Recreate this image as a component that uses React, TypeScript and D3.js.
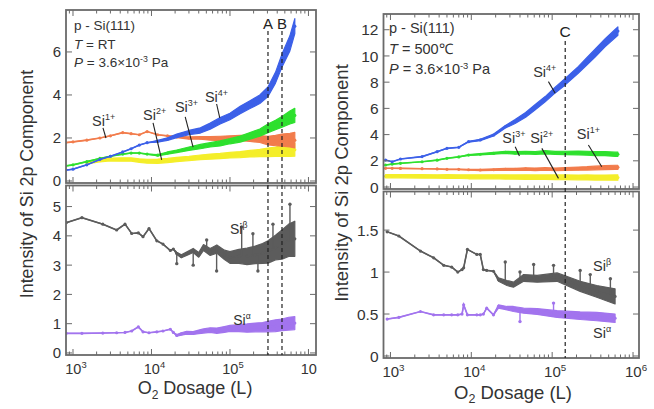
import React from 'react';
import * as d3 from 'd3';

const FONT = '"Liberation Sans", Arial, Helvetica, sans-serif';
const INK = '#333';
const FRAME = '#6a6a6a';

const COL_SI4 = '#3c60e8';
const COL_SI3 = '#2ee02e';
const COL_SI2 = '#f4ee2a';
const COL_SI1 = '#f27c4c';
const COL_BETA = '#5c5c5c';
const COL_ALPHA = '#a274ee';

// ---------- room temperature, Si 2p oxide components ----------
const doseLT = [800, 1000, 1500, 2200, 3000, 4300, 5500, 7000, 8800, 12000, 16000, 21000, 30000, 42000, 56000, 75000, 100000, 135000, 180000, 240000, 305000, 380000, 460000, 580000, 670000];
const si4LT = [0.5, 0.55, 0.75, 1.0, 1.15, 1.35, 1.5, 1.67, 1.78, 1.85, 1.95, 2.1, 2.25, 2.35, 2.55, 2.8, 3.0, 3.3, 3.55, 3.8, 4.15, 4.8, 5.6, 6.4, 7.2];
const si4LTs = [0, 0, 0, 0, 0, 0, 0, 0, 0, 0.04, 0.06, 0.08, 0.1, 0.12, 0.14, 0.15, 0.15, 0.17, 0.18, 0.2, 0.22, 0.25, 0.3, 0.35, 0.35];
const si3LT = [0.7, 0.75, 0.9, 1.05, 1.15, 1.25, 1.3, 1.3, 1.25, 1.2, 1.3, 1.38, 1.5, 1.6, 1.68, 1.75, 1.85, 1.95, 2.1, 2.25, 2.45, 2.6, 2.75, 2.95, 3.05];
const si3LTs = [0, 0, 0, 0, 0, 0, 0, 0, 0, 0.03, 0.05, 0.06, 0.08, 0.1, 0.1, 0.12, 0.12, 0.14, 0.15, 0.17, 0.2, 0.22, 0.25, 0.3, 0.33];
const si2LT = [null, null, 0.85, 0.95, 1.0, 1.0, 1.0, 0.95, 0.92, 0.92, 0.95, 1.0, 1.05, 1.1, 1.13, 1.16, 1.2, 1.23, 1.27, 1.3, 1.33, 1.36, 1.4, 1.42, 1.45];
const si2LTs = [0, 0, 0.05, 0.06, 0.07, 0.08, 0.08, 0.08, 0.09, 0.1, 0.1, 0.1, 0.1, 0.11, 0.12, 0.12, 0.13, 0.14, 0.15, 0.17, 0.2, 0.22, 0.25, 0.28, 0.3];
const si1LT = [1.78, 1.82, 1.9, 2.0, 2.1, 2.25, 2.2, 2.15, 2.3, 2.15, 2.1, 2.05, 2.0, 2.0, 1.98, 1.98, 2.0, 2.0, 1.98, 1.95, 1.88, 1.88, 1.9, 1.9, 1.9];
const si1LTs = [0, 0, 0, 0, 0, 0, 0, 0, 0, 0, 0, 0.03, 0.05, 0.06, 0.08, 0.1, 0.1, 0.12, 0.14, 0.16, 0.2, 0.24, 0.28, 0.32, 0.36];

// ---------- room temperature, Si alpha / Si beta ----------
const doseLB = [820, 1300, 2400, 3600, 4600, 5600, 6800, 7800, 9300, 11700, 14000, 17400, 19000, 21000, 24000, 28000, 34000, 40000, 46000, 56000, 68000, 85000, 100000, 130000, 165000, 210000, 260000, 305000, 380000, 460000, 560000, 670000];
const betaL = [4.45, 4.62, 4.4, 4.2, 4.4, 4.08, 4.1, 3.97, 4.25, 3.83, 3.72, 3.5, 3.55, 3.4, 3.3, 3.39, 3.5, 3.35, 3.6, 3.45, 3.55, 3.35, 3.26, 3.3, 3.3, 3.35, 3.4, 3.45, 3.6, 3.7, 3.85, 3.9];
const betaLs = [0, 0, 0, 0, 0, 0, 0, 0, 0, 0, 0, 0, 0, 0.04, 0.05, 0.06, 0.07, 0.08, 0.1, 0.12, 0.14, 0.16, 0.2, 0.24, 0.28, 0.3, 0.34, 0.38, 0.42, 0.5, 0.55, 0.6];
const alphaL = [0.67, 0.67, 0.68, 0.69, 0.7, 0.75, 0.89, 0.72, 0.69, 0.72, 0.75, 0.81, 0.7, 0.6, 0.65, 0.69, 0.68, 0.72, 0.75, 0.78, 0.76, 0.8, 0.84, 0.85, 0.85, 0.87, 0.88, 0.9, 0.93, 0.96, 1.0, 1.02];
const alphaLs = [0, 0, 0, 0, 0, 0, 0, 0, 0, 0, 0, 0, 0, 0.03, 0.04, 0.05, 0.05, 0.06, 0.07, 0.08, 0.09, 0.1, 0.1, 0.12, 0.14, 0.15, 0.16, 0.18, 0.2, 0.2, 0.22, 0.22];
// [dose, base, tip]
const betaSpikesL = [[21000, 3.4, 3.05], [34000, 3.5, 3.0], [50500, 3.6, 3.86], [67600, 3.55, 2.8], [141000, 3.3, 4.3], [196000, 3.3, 4.07], [227000, 3.35, 2.8], [353000, 3.55, 4.4], [581000, 3.85, 5.08]];

// ---------- 500 C, Si 2p oxide components ----------
const doseRT = [870, 1050, 1330, 2460, 3780, 5000, 7000, 9250, 12900, 18900, 26400, 34800, 47000, 61800, 82000, 109000, 145000, 210000, 270000, 337000, 450000, 600000, 650000];
const si4RT = [2.06, 1.93, 2.14, 2.32, 2.7, 2.95, 3.03, 3.46, 3.59, 3.97, 4.6, 5.0, 5.5, 6.1, 6.7, 7.4, 8.04, 8.93, 9.6, 10.2, 11.0, 11.7, 11.9];
const si4RTs = [0, 0, 0, 0, 0, 0, 0, 0.03, 0.05, 0.08, 0.1, 0.15, 0.18, 0.2, 0.2, 0.22, 0.25, 0.25, 0.28, 0.3, 0.3, 0.32, 0.32];
const si3RT = [1.68, 1.75, 1.81, 1.93, 2.05, 2.19, 2.3, 2.44, 2.5, 2.57, 2.65, 2.6, 2.62, 2.6, 2.65, 2.6, 2.6, 2.6, 2.58, 2.55, 2.55, 2.5, 2.5];
const si3RTs = [0, 0, 0, 0, 0, 0, 0, 0.03, 0.05, 0.07, 0.08, 0.1, 0.1, 0.11, 0.12, 0.12, 0.13, 0.14, 0.15, 0.15, 0.16, 0.16, 0.16];
const si2RT = [0.82, 0.82, 0.82, 0.81, 0.8, 0.8, 0.79, 0.78, 0.78, 0.78, 0.77, 0.76, 0.76, 0.75, 0.75, 0.74, 0.74, 0.73, 0.73, 0.72, 0.72, 0.72, 0.72];
const si2RTs = [0.12, 0.12, 0.12, 0.13, 0.13, 0.14, 0.14, 0.15, 0.15, 0.15, 0.16, 0.16, 0.17, 0.17, 0.17, 0.18, 0.18, 0.18, 0.19, 0.19, 0.19, 0.2, 0.2];
const si1RT = [1.43, 1.43, 1.42, 1.4, 1.38, 1.35, 1.35, 1.32, 1.3, 1.32, 1.35, 1.35, 1.38, 1.35, 1.38, 1.35, 1.38, 1.4, 1.42, 1.45, 1.48, 1.5, 1.5];
const si1RTs = [0, 0, 0, 0, 0, 0, 0, 0.03, 0.05, 0.06, 0.07, 0.08, 0.09, 0.1, 0.1, 0.1, 0.11, 0.12, 0.13, 0.14, 0.15, 0.16, 0.16];

// ---------- 500 C, Si alpha / Si beta ----------
const doseRB = [910, 1270, 2350, 3420, 4560, 5720, 6800, 7680, 8040, 8950, 11700, 12900, 14100, 15500, 18800, 21700, 27600, 33200, 44400, 65200, 115000, 222000, 356000, 600000];
const betaR = [1.48, 1.43, 1.25, 1.17, 1.08, 1.06, 1.0, 1.03, 1.05, 1.27, 1.21, 1.21, 1.03, 1.02, 1.01, 0.91, 0.87, 0.85, 0.93, 0.92, 0.94, 0.83, 0.77, 0.71];
const betaRs = [0, 0, 0, 0, 0, 0, 0, 0, 0, 0, 0, 0, 0, 0, 0, 0.02, 0.03, 0.03, 0.04, 0.04, 0.05, 0.06, 0.07, 0.09];
const alphaR = [0.44, 0.46, 0.53, 0.49, 0.49, 0.49, 0.49, 0.5, 0.61, 0.49, 0.49, 0.49, 0.5, 0.57, 0.49, 0.59, 0.57, 0.56, 0.54, 0.53, 0.5, 0.48, 0.47, 0.45];
const alphaRs = [0, 0, 0, 0, 0, 0, 0, 0, 0, 0, 0, 0, 0, 0, 0, 0.02, 0.02, 0.03, 0.03, 0.035, 0.04, 0.045, 0.05, 0.05];
const betaSpikesR = [[26300, 0.87, 1.12], [40000, 0.9, 1.0], [59000, 0.92, 1.09], [104000, 0.94, 1.08], [222000, 0.83, 1.02], [296000, 0.8, 0.97], [525000, 0.73, 0.92]];
const alphaSpikesR = [[40000, 0.55, 0.41], [104000, 0.5, 0.63]];

// marker doses (dashed lines)
const markersL = [{ name: 'A', dose: 305000 }, { name: 'B', dose: 460000 }];
const markersR = [{ name: 'C', dose: 145000 }];

const yTicksLT = [0, 2, 4, 6];
const yTicksLB = [0, 1, 2, 3, 4, 5];
const yTicksRT = [0, 2, 4, 6, 8, 10, 12];
const yTicksRB = [0, 0.5, 1, 1.5];
const xTickPowers = [3, 4, 5, 6];

// series labels: text, label anchor, leader from/to (dose, value)
const labelsLT = [
  { sup: '1+', d: 1746, v: 2.56, from: [2410, 2.47], to: [2630, 2.0] },
  { sup: '2+', d: 7800, v: 2.84, from: [10470, 2.7], to: [13490, 0.98] },
  { sup: '3+', d: 19900, v: 3.21, from: [26900, 2.98], to: [33900, 1.58] },
  { sup: '4+', d: 48000, v: 3.67, from: [67600, 3.58], to: [74100, 2.93] },
];
const labelsRT = [
  { sup: '4+', d: 58200, v: 8.4, from: [89900, 8.04], to: [109000, 7.15] },
  { sup: '3+', d: 24200, v: 3.38, from: [34900, 3.08], to: [39400, 2.37] },
  { sup: '2+', d: 53500, v: 3.38, from: [74600, 2.95], to: [119700, 0.66] },
  { sup: '1+', d: 201800, v: 3.64, from: [280500, 3.21], to: [411000, 1.55] },
];
const labelsLB = [
  { sup: 'β', d: 100000, v: 4.06 },
  { sup: 'α', d: 110000, v: 0.95 },
];
const labelsRB = [
  { sup: 'β', d: 321000, v: 1.01 },
  { sup: 'α', d: 321000, v: 0.21 },
];

type Ser = { dose: number[]; mid: (number | null)[]; spread: number[]; color: string };
type Lin = d3.ScaleLinear<number, number>;
type Log = d3.ScaleLogarithmic<number, number>;

function Band({ s, x, y }: { s: Ser; x: Log; y: Lin }) {
  const pts = s.dose.map((d, i) => ({ d, v: s.mid[i], s: s.spread[i] }));
  const area = d3.area<any>()
    .defined(p => p.v != null)
    .x(p => x(p.d))
    .y0(p => y(p.v - p.s))
    .y1(p => y(p.v + p.s));
  const line = d3.line<any>()
    .defined(p => p.v != null)
    .x(p => x(p.d))
    .y(p => y(p.v));
  return (
    <g>
      <path d={area(pts) || ''} fill={s.color} stroke={s.color} strokeWidth={1.2} strokeLinejoin="round" />
      <path d={line(pts) || ''} fill="none" stroke={s.color} strokeWidth={1.6} />
      {pts.filter(p => p.v != null).map((p, i) => (
        <circle key={i} cx={x(p.d)} cy={y(p.v as number)} r={1.6} fill={s.color} />
      ))}
    </g>
  );
}

function Spikes({ data, color, x, y }: { data: number[][]; color: string; x: Log; y: Lin }) {
  return (
    <g>
      {data.map(([d, b, t], i) => (
        <g key={i}>
          <line x1={x(d)} x2={x(d)} y1={y(b)} y2={y(t)} stroke={color} strokeWidth={1.4} />
          <circle cx={x(d)} cy={y(t)} r={1.7} fill={color} />
        </g>
      ))}
    </g>
  );
}

function Frame({ x, y, yTicks }: { x: Log; y: Lin; yTicks: number[] }) {
  const [x0, x1] = x.range();
  const [y1, y0] = y.range();
  const ticks = x.ticks();
  const isMajor = (t: number) => Math.abs(Math.log10(t) - Math.round(Math.log10(t))) < 1e-6;
  return (
    <g stroke={FRAME} fill="none">
      {ticks.map((t, i) => {
        const len = isMajor(t) ? 6 : 3.5;
        const px = x(t);
        return (
          <g key={i} strokeWidth={1}>
            <line x1={px} x2={px} y1={y1} y2={y1 - len} />
            <line x1={px} x2={px} y1={y0} y2={y0 + len} />
          </g>
        );
      })}
      {yTicks.map((t, i) => (
        <g key={i} strokeWidth={1}>
          <line x1={x0} x2={x0 + 6} y1={y(t)} y2={y(t)} />
          <line x1={x1} x2={x1 - 6} y1={y(t)} y2={y(t)} />
        </g>
      ))}
      <rect x={x0} y={y0} width={x1 - x0} height={y1 - y0} strokeWidth={1.8} />
    </g>
  );
}

function YLabels({ x, y, ticks, size }: { x: Log; y: Lin; ticks: number[]; size: number }) {
  const x0 = x.range()[0];
  return (
    <g fontSize={size} fill={INK} textAnchor="end">
      {ticks.map((t, i) => (
        <text key={i} x={x0 - 5} y={y(t)} dy="0.36em">{String(t)}</text>
      ))}
    </g>
  );
}

function XLabels({ x, yBase, size }: { x: Log; yBase: number; size: number }) {
  return (
    <g fontSize={size} fill={INK} textAnchor="middle">
      {xTickPowers.map(p => (
        <text key={p} x={x(Math.pow(10, p)) + 3} y={yBase}>
          10<tspan dy={-6} fontSize={size * 0.65}>{p}</tspan>
        </text>
      ))}
    </g>
  );
}

function SeriesLabels({ items, x, y, size }: { items: any[]; x: Log; y: Lin; size: number }) {
  return (
    <g fontSize={size} fill={INK}>
      {items.map((it, i) => (
        <g key={i}>
          <text x={x(it.d)} y={y(it.v)}>
            Si<tspan dy={-6} fontSize={size * 0.62}>{it.sup}</tspan>
          </text>
          {it.from && (
            <line x1={x(it.from[0])} y1={y(it.from[1])} x2={x(it.to[0])} y2={y(it.to[1])} stroke="#222" strokeWidth={1.1} />
          )}
        </g>
      ))}
    </g>
  );
}

function Info({ x, y, temp, size, gap }: { x: number; y: number; temp: string; size: number; gap: number }) {
  return (
    <g fontSize={size} fill={INK}>
      <text x={x} y={y}>p - Si(111)</text>
      <text x={x} y={y + gap}><tspan fontStyle="italic">T</tspan> = {temp}</text>
      <text x={x} y={y + gap * 2}>
        <tspan fontStyle="italic">P</tspan> = 3.6×10<tspan dy={-5} fontSize={size * 0.65}>-3</tspan><tspan dy={5}> Pa</tspan>
      </text>
    </g>
  );
}

export default function App() {
  // left (RT)
  const xL = d3.scaleLog().domain([Math.pow(10, 2.911), Math.pow(10, 6.096)]).range([66, 316]);
  const yLT = d3.scaleLinear().domain([-0.093, 7.95]).range([183, 10]);
  const yLB = d3.scaleLinear().domain([-0.07, 5.72]).range([355, 185.5]);
  // right (500 C)
  const xR = d3.scaleLog().domain([Math.pow(10, 2.914), Math.pow(10, 6.074)]).range([383.5, 639]);
  const yRT = d3.scaleLinear().domain([-0.15, 13.2]).range([189, 14]);
  const yRB = d3.scaleLinear().domain([-0.024, 1.96]).range([358, 191.5]);

  const serLT: Ser[] = [
    { dose: doseLT, mid: si2LT, spread: si2LTs, color: COL_SI2 },
    { dose: doseLT, mid: si1LT, spread: si1LTs, color: COL_SI1 },
    { dose: doseLT, mid: si3LT, spread: si3LTs, color: COL_SI3 },
    { dose: doseLT, mid: si4LT, spread: si4LTs, color: COL_SI4 },
  ];
  const serLB: Ser[] = [
    { dose: doseLB, mid: betaL, spread: betaLs, color: COL_BETA },
    { dose: doseLB, mid: alphaL, spread: alphaLs, color: COL_ALPHA },
  ];
  const serRT: Ser[] = [
    { dose: doseRT, mid: si2RT, spread: si2RTs, color: COL_SI2 },
    { dose: doseRT, mid: si1RT, spread: si1RTs, color: COL_SI1 },
    { dose: doseRT, mid: si3RT, spread: si3RTs, color: COL_SI3 },
    { dose: doseRT, mid: si4RT, spread: si4RTs, color: COL_SI4 },
  ];
  const serRB: Ser[] = [
    { dose: doseRB, mid: betaR, spread: betaRs, color: COL_BETA },
    { dose: doseRB, mid: alphaR, spread: alphaRs, color: COL_ALPHA },
  ];

  return (
    <svg width={654} height={409} style={{ position: 'absolute', left: 0, top: 0, background: '#fff' }} fontFamily={FONT}>
      <defs>
        <clipPath id="clipL"><rect x={0} y={0} width={317} height={409} /></clipPath>
        <clipPath id="plotLT"><rect x={66} y={10} width={250} height={173} /></clipPath>
        <clipPath id="plotLB"><rect x={66} y={185.5} width={250} height={169.5} /></clipPath>
        <clipPath id="plotRT"><rect x={383.5} y={14} width={255.5} height={175} /></clipPath>
        <clipPath id="plotRB"><rect x={383.5} y={191.5} width={255.5} height={166.5} /></clipPath>
      </defs>

      {/* ---------- left figure ---------- */}
      <g clipPath="url(#clipL)">
        <g clipPath="url(#plotLT)">
          {serLT.map((s, i) => <Band key={i} s={s} x={xL} y={yLT} />)}
        </g>
        <g clipPath="url(#plotLB)">
          {serLB.map((s, i) => <Band key={i} s={s} x={xL} y={yLB} />)}
          <Spikes data={betaSpikesL} color={COL_BETA} x={xL} y={yLB} />
        </g>
        <Frame x={xL} y={yLT} yTicks={yTicksLT} />
        <Frame x={xL} y={yLB} yTicks={yTicksLB} />
        <YLabels x={xL} y={yLT} ticks={yTicksLT} size={15} />
        <YLabels x={xL} y={yLB} ticks={yTicksLB} size={15} />
        <XLabels x={xL} yBase={374} size={14.5} />
        {markersL.map(m => (
          <g key={m.name}>
            <line x1={xL(m.dose)} x2={xL(m.dose)} y1={31} y2={355} stroke="#222" strokeWidth={1.2} strokeDasharray="4,3" />
            <text x={xL(m.dose)} y={29} fontSize={15} textAnchor="middle" fill="#222">{m.name}</text>
          </g>
        ))}
        <SeriesLabels items={labelsLT} x={xL} y={yLT} size={14.5} />
        <SeriesLabels items={labelsLB} x={xL} y={yLB} size={14} />
        <Info x={74} y={30} temp="RT" size={13.5} gap={18.5} />
        <text transform="translate(27,184) rotate(-90)" fontSize={17.8} fill={INK} textAnchor="middle" dominantBaseline="central">
          Intensity of Si 2p Component
        </text>
        <text x={195} y={394} fontSize={18} fill={INK} textAnchor="middle">
          O<tspan dy={5} fontSize={12}>2</tspan><tspan dy={-5}> Dosage (L)</tspan>
        </text>
      </g>

      {/* ---------- right figure ---------- */}
      <g clipPath="url(#plotRT)">
        {serRT.map((s, i) => <Band key={i} s={s} x={xR} y={yRT} />)}
      </g>
      <g clipPath="url(#plotRB)">
        {serRB.map((s, i) => <Band key={i} s={s} x={xR} y={yRB} />)}
        <Spikes data={betaSpikesR} color={COL_BETA} x={xR} y={yRB} />
        <Spikes data={alphaSpikesR} color={COL_ALPHA} x={xR} y={yRB} />
      </g>
      <Frame x={xR} y={yRT} yTicks={yTicksRT} />
      <Frame x={xR} y={yRB} yTicks={yTicksRB} />
      <YLabels x={xR} y={yRT} ticks={yTicksRT} size={15.5} />
      <YLabels x={xR} y={yRB} ticks={yTicksRB} size={15.5} />
      <XLabels x={xR} yBase={377} size={15} />
      {markersR.map(m => (
        <g key={m.name}>
          <line x1={xR(m.dose)} x2={xR(m.dose)} y1={41} y2={358} stroke="#222" strokeWidth={1.2} strokeDasharray="4,3" />
          <text x={xR(m.dose)} y={37} fontSize={15.5} textAnchor="middle" fill="#222">{m.name}</text>
        </g>
      ))}
      <SeriesLabels items={labelsRT} x={xR} y={yRT} size={14.5} />
      <SeriesLabels items={labelsRB} x={xR} y={yRB} size={14.5} />
      <Info x={389} y={33} temp="500℃" size={14.5} gap={20.5} />
      <text transform="translate(341,183) rotate(-90)" fontSize={18.5} fill={INK} textAnchor="middle" dominantBaseline="central">
        Intensity of Si 2p Component
      </text>
      <text x={513} y={399} fontSize={18.5} fill={INK} textAnchor="middle">
        O<tspan dy={4} fontSize={12.5}>2</tspan><tspan dy={-4}> Dosage (L)</tspan>
      </text>
    </svg>
  );
}
